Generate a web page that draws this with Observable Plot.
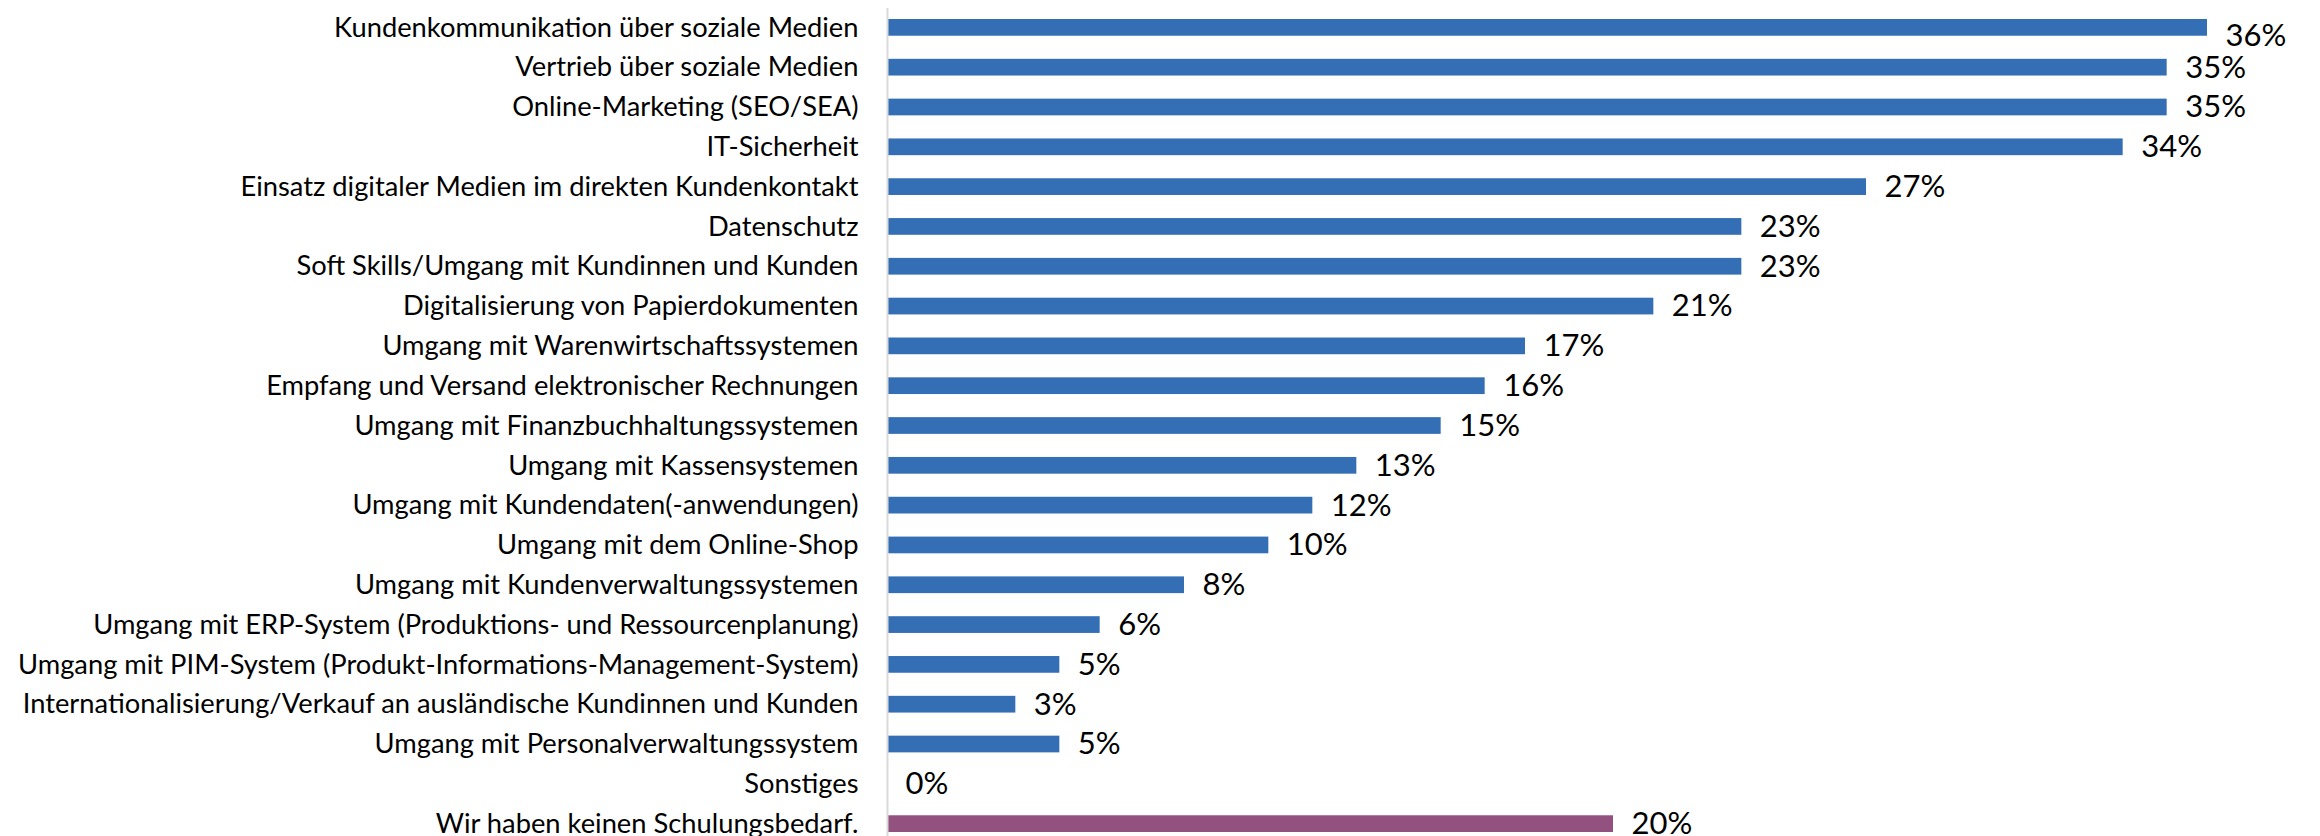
<!DOCTYPE html>
<html>
<head>
<meta charset="utf-8">
<script src="https://cdn.jsdelivr.net/npm/d3@7"></script>
<script src="https://cdn.jsdelivr.net/npm/@observablehq/plot@0.6"></script>
<style>
  html, body { margin: 0; padding: 0; background: #fff; }
  #chart svg { display: block; }
</style>
</head>
<body>
<div id="chart"></div>
<script>
const categories = [
  "Kundenkommunikation über soziale Medien",
  "Vertrieb über soziale Medien",
  "Online-Marketing (SEO/SEA)",
  "IT-Sicherheit",
  "Einsatz digitaler Medien im direkten Kundenkontakt",
  "Datenschutz",
  "Soft Skills/Umgang mit Kundinnen und Kunden",
  "Digitalisierung von Papierdokumenten",
  "Umgang mit Warenwirtschaftssystemen",
  "Empfang und Versand elektronischer Rechnungen",
  "Umgang mit Finanzbuchhaltungssystemen",
  "Umgang mit Kassensystemen",
  "Umgang mit Kundendaten(-anwendungen)",
  "Umgang mit dem Online-Shop",
  "Umgang mit Kundenverwaltungssystemen",
  "Umgang mit ERP-System (Produktions- und Ressourcenplanung)",
  "Umgang mit PIM-System (Produkt-Informations-Management-System)",
  "Internationalisierung/Verkauf an ausländische Kundinnen und Kunden",
  "Umgang mit Personalverwaltungssystem",
  "Sonstiges",
  "Wir haben keinen Schulungsbedarf."
];
const values = [36.0, 34.9, 34.9, 33.7, 26.7, 23.3, 23.3, 20.9, 17.4, 16.3, 15.1, 12.8, 11.6, 10.4, 8.1, 5.8, 4.7, 3.5, 4.7, 0, 19.8];
const valueLabels = ["36%", "35%", "35%", "34%", "27%", "23%", "23%", "21%", "17%", "16%", "15%", "13%", "12%", "10%", "8%", "6%", "5%", "3%", "5%", "0%", "20%"];
const highlighted = ["Wir haben keinen Schulungsbedarf."];

const data = categories.map((c, i) => ({
  category: c,
  value: values[i],
  label: valueLabels[i],
  group: highlighted.includes(c) ? "none" : "need"
}));

const chart = Plot.plot({
  width: 2320,
  height: 836,
  marginLeft: 887,
  marginRight: 113,
  marginTop: 19,
  marginBottom: 4,
  style: { fontFamily: "Lato, 'Open Sans', sans-serif", color: "#000", background: "#fff" },
  x: { domain: [0, 36], axis: null },
  y: { domain: categories, paddingInner: 0.58, paddingOuter: 0, round: false, axis: null },
  color: { domain: ["need", "none"], range: ["#346EB5", "#93517F"] },
  marks: [
    Plot.barX(data, { x: "value", y: "category", fill: "group" }),
    Plot.ruleX([0], { stroke: "#d9d9d9", strokeWidth: 2, insetTop: -11, insetBottom: -4 }),
    Plot.axisY({ tickSize: 0, tickPadding: 29, fontSize: 27.3, fill: "#000", label: null }),
    Plot.text(data, {
      filter: (d, i) => i !== 0,
      x: "value", y: "category", text: "label",
      textAnchor: "start", dx: 18, fontSize: 31, fill: "#000"
    }),
    Plot.text(data, {
      filter: (d, i) => i === 0,
      x: "value", y: "category", text: "label",
      textAnchor: "start", dx: 18, dy: 8, fontSize: 31, fill: "#000"
    })
  ]
});

document.getElementById("chart").appendChild(chart);
</script>
</body>
</html>
